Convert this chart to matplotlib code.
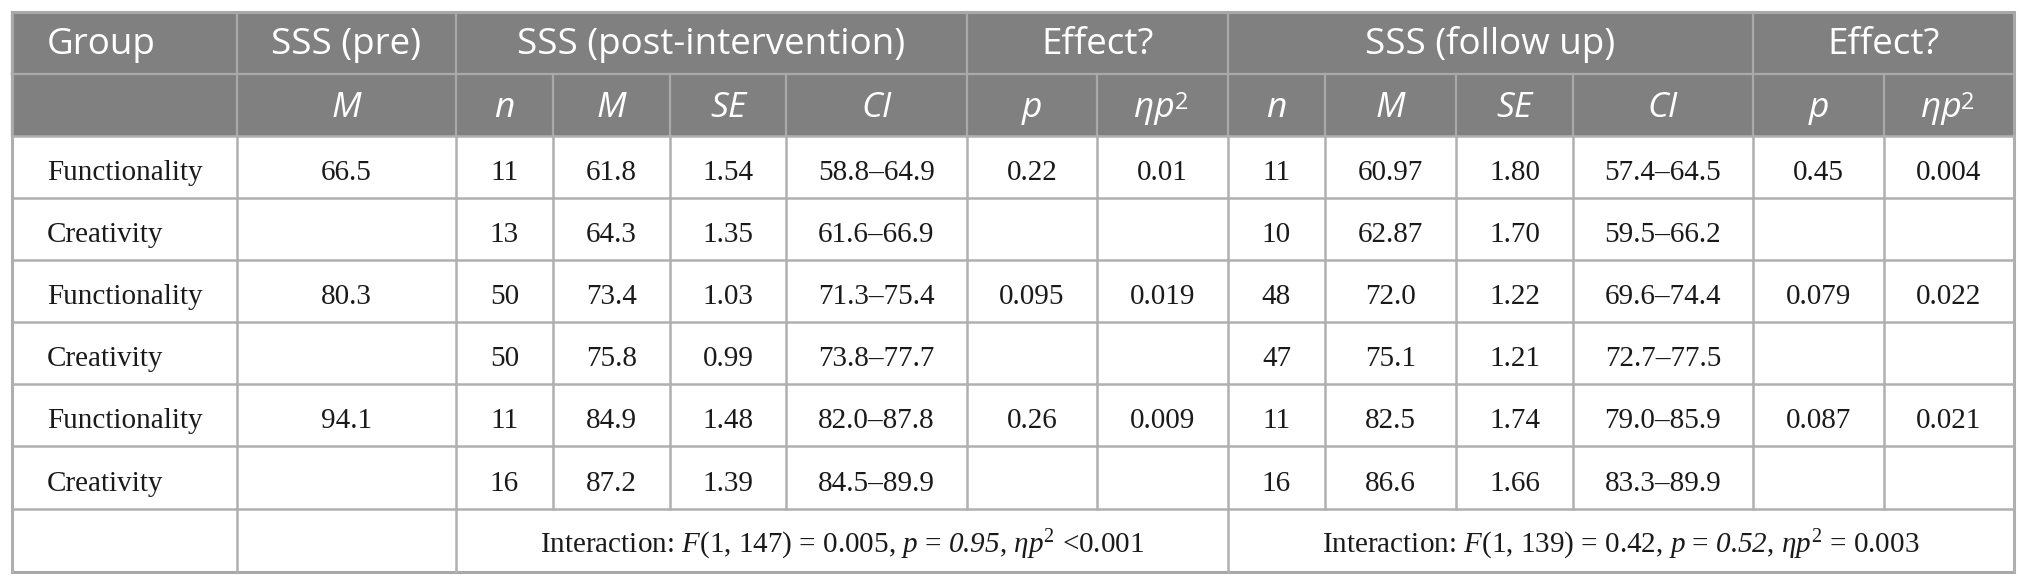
import matplotlib
matplotlib.use('Agg')
import matplotlib.pyplot as plt
from matplotlib.patches import Rectangle

plt.rcParams['mathtext.fontset'] = 'custom'
plt.rcParams['mathtext.rm'] = 'Liberation Serif'
plt.rcParams['mathtext.it'] = 'Liberation Serif:italic'
# italic digits: mathtext sends digits in \mathit to rm, so borrow sf for them
plt.rcParams['mathtext.sf'] = 'Liberation Serif:italic'

# table content
groups = ['Functionality', 'Creativity', 'Functionality', 'Creativity', 'Functionality', 'Creativity']
pre_M = ['66.5', '', '80.3', '', '94.1', '']
post_n = ['11', '13', '50', '50', '11', '16']
post_M = ['61.8', '64.3', '73.4', '75.8', '84.9', '87.2']
post_SE = ['1.54', '1.35', '1.03', '0.99', '1.48', '1.39']
post_CI = ['58.8–64.9', '61.6–66.9', '71.3–75.4', '73.8–77.7', '82.0–87.8', '84.5–89.9']
post_p = ['0.22', '', '0.095', '', '0.26', '']
post_eta = ['0.01', '', '0.019', '', '0.009', '']
fu_n = ['11', '10', '48', '47', '11', '16']
fu_M = ['60.97', '62.87', '72.0', '75.1', '82.5', '86.6']
fu_SE = ['1.80', '1.70', '1.22', '1.21', '1.74', '1.66']
fu_CI = ['57.4–64.5', '59.5–66.2', '69.6–74.4', '72.7–77.5', '79.0–85.9', '83.3–89.9']
fu_p = ['0.45', '', '0.079', '', '0.087', '']
fu_eta = ['0.004', '', '0.022', '', '0.021', '']

header_top = [('Group', 0, 1), ('SSS (pre)', 1, 2), ('SSS (post-intervention)', 2, 6),
              ('Effect?', 6, 8), ('SSS (follow up)', 8, 12), ('Effect?', 12, 14)]
header_sub = ['', 'M', 'n', 'M', 'SE', 'CI', 'p', 'ηp', 'n', 'M', 'SE', 'CI', 'p', 'ηp']

post_interaction = r'Interaction: $F$(1, 147) = 0.005, $p$ = $\mathsf{0.95}$, $\eta p^2$ <0.001'
fu_interaction = r'Interaction: $F$(1, 139) = 0.42, $p$ = $\mathsf{0.52}$, $\eta p^2$ = 0.003'

columns = [groups, pre_M, post_n, post_M, post_SE, post_CI, post_p, post_eta,
           fu_n, fu_M, fu_SE, fu_CI, fu_p, fu_eta]

# layout in pixels
xs = [12, 237, 456, 553, 670, 786, 967, 1097, 1228, 1325, 1456, 1573, 1753, 1884, 2014]
ys = [12, 74, 136, 198, 260, 322, 384, 446, 509, 572]

HEAD_BG = '#808080'
HEAD_LINE = '#a9a9a9'
LINE = '#b0b0b0'
TXT = '#1a1a1a'
W = 2030
H = 585

fig = plt.figure(figsize=(W / 100, H / 100), dpi=100)
ax = fig.add_axes([0, 0, 1, 1])
ax.set_xlim(0, W)
ax.set_ylim(H, 0)
ax.axis('off')

head_font = ['Open Sans', 'DejaVu Sans']
body_font = 'Liberation Serif'

# header background
ax.add_patch(Rectangle((xs[0], ys[0]), xs[-1] - xs[0], ys[2] - ys[0], color=HEAD_BG, lw=0))

def mid(a, b):
    return (a + b) / 2

# header row 1
for label, c0, c1 in header_top:
    x = xs[c0] + 35 if label == 'Group' else mid(xs[c0], xs[c1])
    ax.text(x, ys[1] - 20, label, ha='left' if label == 'Group' else 'center', va='baseline',
            color='white', fontsize=26.5, family=head_font)
    ax.plot([xs[c0], xs[c0]], [ys[0], ys[1]], color=HEAD_LINE, lw=1.6)

# header row 2
for i, label in enumerate(header_sub):
    xc = mid(xs[i], xs[i + 1])
    if label == 'ηp':
        t = ax.text(xc - 8, ys[2] - 19, label, ha='center', va='baseline',
                    color='white', fontsize=25.5, style='italic', family=head_font)
        ax.annotate('2', xy=(1.0, 1.0), xycoords=t, ha='left', va='top',
                    color='white', fontsize=17, family=head_font)
    else:
        ax.text(xc, ys[2] - 19, label, ha='center', va='baseline',
                color='white', fontsize=25.5, style='italic', family=head_font)
    ax.plot([xs[i], xs[i]], [ys[1], ys[2]], color=HEAD_LINE, lw=1.6)
ax.plot([xs[0], xs[-1]], [ys[1], ys[1]], color=HEAD_LINE, lw=1.6)

# body rows
for r in range(6):
    y0, y1 = ys[r + 2], ys[r + 3]
    for c, col in enumerate(columns):
        if c == 0:
            ax.text(xs[0] + 35, y1 - 18, col[r], ha='left', va='baseline',
                    fontsize=21, family=body_font, color=TXT)
        else:
            ax.text(mid(xs[c], xs[c + 1]), y1 - 18, col[r], ha='center', va='baseline',
                    fontsize=21, family=body_font, color=TXT)
    for x in xs:
        ax.plot([x, x], [y0, y1], color=LINE, lw=1.8)
    ax.plot([xs[0], xs[-1]], [y0, y0], color=LINE, lw=1.8)

# interaction row
y0, y1 = ys[8], ys[9]
ax.plot([xs[0], xs[-1]], [y0, y0], color=LINE, lw=1.8)
for x in [xs[0], xs[1], xs[2], xs[8], xs[-1]]:
    ax.plot([x, x], [y0, y1], color=LINE, lw=1.8)
ax.text(mid(xs[2], xs[8]), y1 - 19, post_interaction, ha='center', va='baseline',
        fontsize=21, family=body_font, color=TXT)
ax.text(mid(xs[8], xs[-1]), y1 - 19, fu_interaction, ha='center', va='baseline',
        fontsize=21, family=body_font, color=TXT)

# outer border
ax.add_patch(Rectangle((xs[0], ys[0]), xs[-1] - xs[0], ys[-1] - ys[0], fill=False,
                       edgecolor='#a8a8a8', lw=2.2))

fig.savefig('out.png', dpi=100)
